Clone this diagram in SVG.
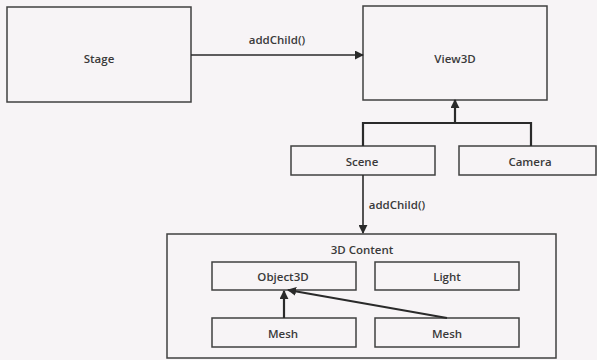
<svg xmlns="http://www.w3.org/2000/svg" width="597" height="360" viewBox="0 0 597 360">
<defs>
<style>
.box{fill:none;stroke:#404040;stroke-width:1.5}
.lbl{font-family:"Open Sans","Liberation Sans",sans-serif;font-size:11.5px;font-weight:600;fill:#3a3a3a;text-anchor:middle;dominant-baseline:central}
.con{fill:none;stroke:#2a2a2a;stroke-width:2.2}
.thin{fill:none;stroke:#2a2a2a;stroke-width:1.6}
</style>
<marker id="ah" viewBox="0 0 10 10" refX="9" refY="5" markerWidth="9" markerHeight="9" markerUnits="userSpaceOnUse" orient="auto">
<path d="M0,0 L10,5 L0,10 z" fill="#2a2a2a"/>
</marker>
</defs>
<rect width="597" height="360" fill="#f7f4f6"/>
<g id="stage"><rect class="box" x="7" y="7" width="184" height="95"/><text class="lbl" x="99" y="58">Stage</text></g>
<g id="view3d"><rect class="box" x="363" y="6" width="184" height="94"/><text class="lbl" x="455" y="58">View3D</text></g>
<g id="scene"><rect class="box" x="291" y="146" width="144" height="29"/><text class="lbl" x="362" y="161">Scene</text></g>
<g id="camera"><rect class="box" x="459" y="146" width="137" height="29"/><text class="lbl" x="530" y="161">Camera</text></g>
<g id="content3d"><rect class="box" x="167" y="234" width="389" height="124"/><text class="lbl" x="362" y="249">3D Content</text></g>
<g id="object3d"><rect class="box" x="212" y="262" width="144" height="28"/><text class="lbl" x="283" y="276">Object3D</text></g>
<g id="light"><rect class="box" x="375" y="262" width="144" height="28"/><text class="lbl" x="447" y="276">Light</text></g>
<g id="mesh1"><rect class="box" x="212" y="318" width="144" height="29"/><text class="lbl" x="283" y="333">Mesh</text></g>
<g id="mesh2"><rect class="box" x="375" y="318" width="144" height="29"/><text class="lbl" x="447" y="333">Mesh</text></g>
<g id="connectors">
<line class="thin" x1="191" y1="55" x2="363" y2="55" marker-end="url(#ah)"/>
<text class="lbl" x="277" y="39">addChild()</text>
<polyline class="con" points="363,146 363,123 531,123 531,146"/>
<line class="con" x1="455" y1="123" x2="455" y2="100" marker-end="url(#ah)"/>
<line class="thin" x1="363" y1="175" x2="363" y2="233" marker-end="url(#ah)"/>
<text class="lbl" x="397" y="204">addChild()</text>
<line class="con" x1="284" y1="318" x2="284" y2="291" marker-end="url(#ah)"/>
<line class="con" x1="447" y1="318" x2="288" y2="290" marker-end="url(#ah)"/>
</g>
</svg>
